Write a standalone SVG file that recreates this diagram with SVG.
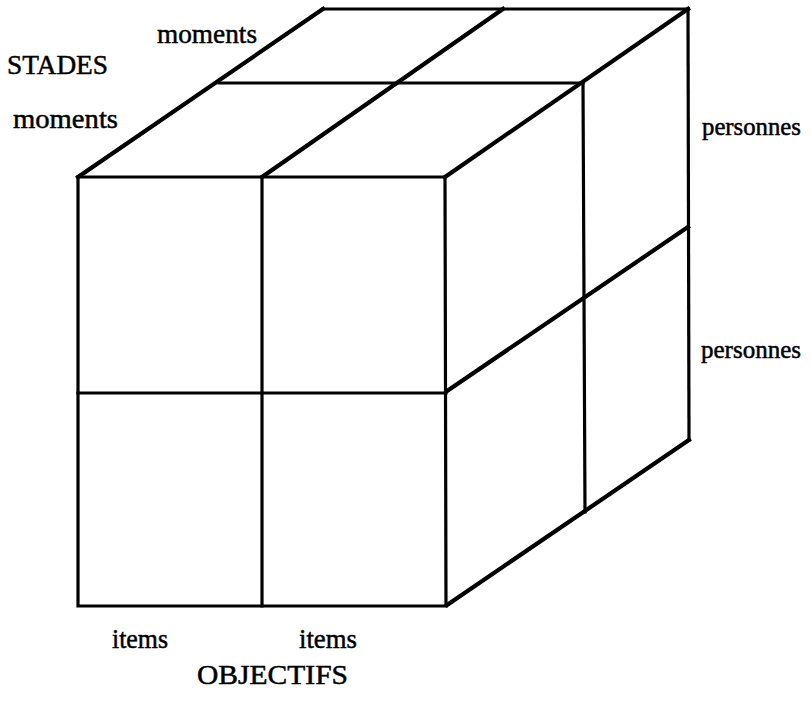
<svg xmlns="http://www.w3.org/2000/svg" width="811" height="708" viewBox="0 0 811 708">
<style>
.t{font-family:"Liberation Serif","Times New Roman",serif;font-size:28px;fill:#000;stroke:#000;stroke-width:0.5}
.p{font-size:25px}
.e{stroke:#000;stroke-width:3.2;fill:none;stroke-linecap:square;stroke-linejoin:miter}
.s{stroke:#000;stroke-width:4.2;fill:none;stroke-linecap:square}
</style>
<rect width="811" height="708" fill="#fff"/>
<g id="cube">
<g id="front">
<path class="e" d="M78,177 L445,177 L446,606 L78,606 Z"/>
<path class="e" d="M262,177 L262,606"/>
<path class="e" d="M78,393 L446,393"/>
</g>
<g id="top">
<path class="s" d="M78,177 L323,9"/>
<path class="s" d="M262,177 L503,9"/>
<path class="s" d="M445,177 L688,9"/>
<path class="e" d="M323,9 L688,9"/>
<path class="e" d="M219,83 L583,83"/>
</g>
<g id="side">
<path class="e" d="M688,9 L689,440"/>
<path class="e" d="M583,83 L585,512"/>
<path class="s" d="M447,391 L688,227"/>
<path class="s" d="M447,605 L689,440"/>
</g>
</g>
<g id="labels">
<text class="t" x="157" y="43" textLength="100" lengthAdjust="spacingAndGlyphs">moments</text>
<text class="t" x="7" y="74" textLength="101" lengthAdjust="spacingAndGlyphs">STADES</text>
<text class="t" x="13" y="128" textLength="105" lengthAdjust="spacingAndGlyphs">moments</text>
<text class="t p" x="702" y="135" textLength="99" lengthAdjust="spacingAndGlyphs">personnes</text>
<text class="t p" x="701" y="358" textLength="100" lengthAdjust="spacingAndGlyphs">personnes</text>
<text class="t" x="112" y="648" textLength="56" lengthAdjust="spacingAndGlyphs">items</text>
<text class="t" x="299" y="648" textLength="58" lengthAdjust="spacingAndGlyphs">items</text>
<text class="t" x="197" y="684" textLength="151" lengthAdjust="spacingAndGlyphs">OBJECTIFS</text>
</g>
</svg>
